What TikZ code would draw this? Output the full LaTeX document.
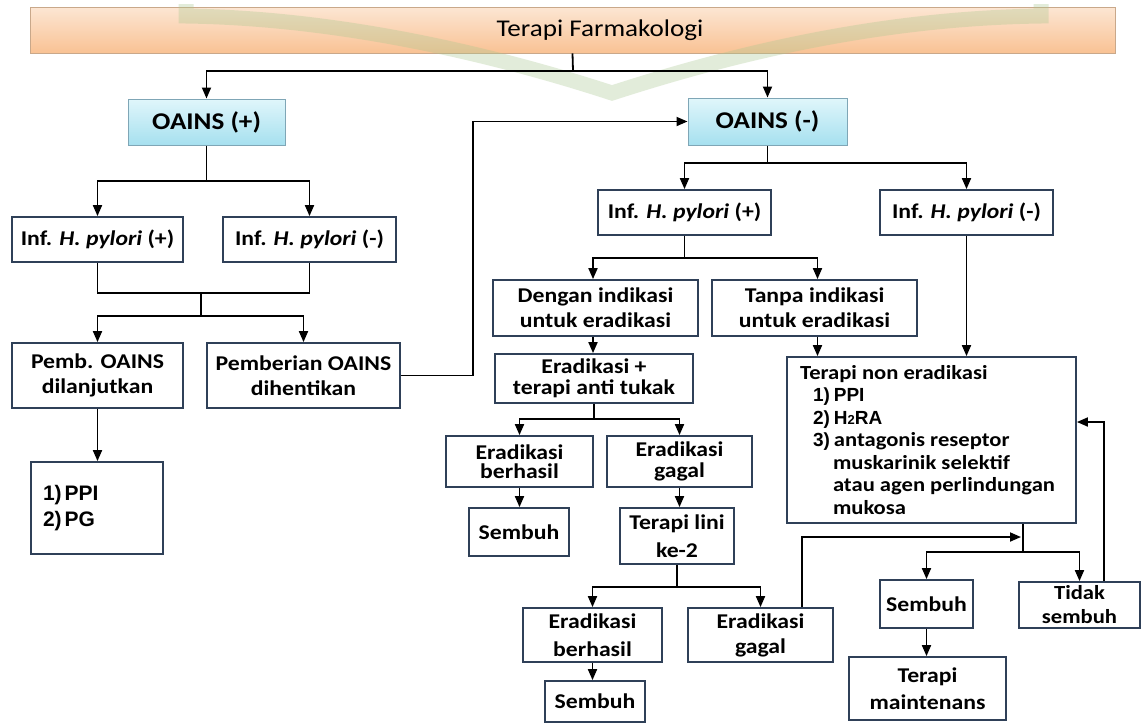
\documentclass[tikz,border=0pt]{standalone}
\usepackage{fontspec}
\setmainfont{Carlito}[FakeStretch=1.13]
\newfontfamily\arialf{Liberation Sans}
\usetikzlibrary{arrows.meta}
\definecolor{boxc}{HTML}{2F4058}
\definecolor{banborder}{HTML}{C9A88A}
\definecolor{bantop}{HTML}{FCE6D3}
\definecolor{banbot}{HTML}{F9C294}
\definecolor{oatop}{HTML}{E0F6FB}
\definecolor{oabot}{HTML}{A6E0EF}
\definecolor{oaborder}{HTML}{7FA6B6}
\definecolor{wmark}{HTML}{A9C78F}
\newcommand{\numf}[1]{{\arialf\fontsize{19}{22}\selectfont #1}}
\begin{document}
\begin{tikzpicture}[x=1pt,y=-1pt,
  box/.style={draw=boxc, line width=1.8pt, fill=white, align=center, inner sep=1pt,
    font=\bfseries\fontsize{21}{25}\selectfont, text=black},
  sz/.style 2 args={minimum width=#1, minimum height=#2},
  oabox/.style={draw=oaborder, line width=1pt, top color=oatop, bottom color=oabot,
    font=\bfseries\fontsize{24}{26}\selectfont, inner sep=1pt},
  ln/.style={line width=1.8pt, black},
  arr/.style={line width=1.8pt, black, -{Triangle[length=11pt,width=9pt]}}
]
\useasboundingbox (0,0) rectangle (1143,724);
\fill[white] (0,0) rectangle (1143,724);

% banner
\node[draw=banborder, line width=0.8pt, top color=bantop, bottom color=banbot,
  sz={1085}{46}, inner sep=0pt, font=\fontsize{24}{26}\selectfont]
  (ban) at (572.5,30) {\hspace*{55pt}Terapi Farmakologi};

% watermark
\draw[wmark, opacity=0.33, line width=15pt]
  (186,4) -- (186,16) .. controls (330,18) and (480,50) .. (612,93)
  .. controls (760,45) and (900,18) .. (1041,16) -- (1041,4);

% OAINS boxes
\node[oabox, sz={157}{46}] (oaP) at (206.5,122) {OAINS (+)};
\node[oabox, sz={159}{47}] (oaM) at (767.5,121.5) {OAINS (-)};

% left column
\node[box, sz={171}{45}] (hpL) at (97.5,239.5) {Inf. \textit{H. pylori} (+)};
\node[box, sz={173}{45}] (hmL) at (309.5,239.5) {Inf. \textit{H. pylori} (-)};
\node[box, sz={171}{65}] (pemb) at (97.5,375.5) {Pemb. OAINS\\dilanjutkan};
\node[box, sz={193}{65}] (stop) at (303.5,375.5) {Pemberian OAINS\\dihentikan};
\node[box, sz={132}{92}, text width=108pt, inner xsep=12pt, align=flush left,
  font=\arialf\bfseries\fontsize{21}{26}\selectfont] (ppi) at (97,508)
  {1)\hspace{3pt}PPI\\2)\hspace{3pt}PG};

% right column
\node[box, sz={173}{45}] (hpR) at (684.5,212.5) {Inf. \textit{H. pylori} (+)};
\node[box, sz={173}{45}] (hmR) at (966.5,212.5) {Inf. \textit{H. pylori} (-)};
\node[box, sz={205}{56}] (deng) at (595.5,308) {Dengan indikasi\\untuk eradikasi};
\node[box, sz={205}{56}] (tanpa) at (814.5,308) {Tanpa indikasi\\untuk eradikasi};
\node[box, sz={198}{49}, font=\bfseries\fontsize{21}{21}\selectfont] (erad) at (594,378.5) {Eradikasi +\\terapi anti tukak};
\node[box, sz={289}{166}, text width=263pt, inner xsep=13pt, align=flush left,
  font=\bfseries\fontsize{20}{22.5}\selectfont] (non) at (931.5,440)
  {\mbox{Terapi non eradikasi}\\
   \mbox{\hspace*{13pt}\numf{1)\hspace{4pt}PPI}}\\
   \mbox{\hspace*{13pt}\numf{2)\hspace{4pt}H{\fontsize{13}{13}\selectfont 2}RA}}\\
   \mbox{\hspace*{13pt}\numf{3)\hspace{4pt}}antagonis reseptor}\\
   \mbox{\hspace*{33pt}muskarinik selektif}\\
   \mbox{\hspace*{33pt}atau agen perlindungan}\\
   \mbox{\hspace*{33pt}mukosa}};
\node[box, sz={147}{51}, font=\bfseries\fontsize{21}{19}\selectfont] (b1) at (519.5,461.5) {Eradikasi\\berhasil};
\node[box, sz={145}{51}, font=\bfseries\fontsize{21}{21}\selectfont] (g1) at (679.5,461.5) {Eradikasi\\gagal};
\node[box, sz={100}{48}] (s1) at (519,532) {Sembuh};
\node[box, sz={114}{56}, font=\bfseries\fontsize{21}{28}\selectfont] (lini) at (677,536) {Terapi lini\\ke-2};
\node[box, sz={139}{54}, font=\bfseries\fontsize{21}{28}\selectfont] (b2) at (592.5,635) {Eradikasi\\berhasil};
\node[box, sz={145}{54}] (g2) at (760.5,635) {Eradikasi\\gagal};
\node[box, sz={100}{41}] (s2) at (595,701.5) {Sembuh};
\node[box, sz={93}{48}] (s3) at (926.5,604) {Sembuh};
\node[box, sz={121}{46}, font=\bfseries\fontsize{20}{24}\selectfont] (tid) at (1079.5,605) {Tidak\\sembuh};
\node[box, sz={157}{63}, font=\bfseries\fontsize{21}{27}\selectfont] (maint) at (927.5,688.5) {Terapi\\maintenans};

% connectors: top
\coordinate (j0) at (573,71);
\draw[ln] (ban.south) -- (j0);
\draw[arr] (j0) -| (oaP.north);
\draw[arr] (j0) -| (oaM.north);

% left branch
\coordinate (j1) at (206.5,181);
\draw[ln] (oaP.south) -- (j1);
\draw[arr] (j1) -| (hpL.north);
\draw[arr] (j1) -| (hmL.north);
\coordinate (j2) at (201,293);
\draw[ln] (hpL.south) |- (j2);
\draw[ln] (hmL.south) |- (j2);
\coordinate (j3) at (201,316);
\draw[ln] (j2) -- (j3);
\draw[arr] (j3) -| (pemb.north);
\draw[arr] (j3) -| (stop.north);
\draw[arr] (pemb.south) -- (pemb.south |- ppi.north);
\draw[arr] (stop.east) -- ++(72,0) |- (oaM.west);

% right branch
\coordinate (j4) at (767.5,163);
\draw[ln] (oaM.south) -- (j4);
\draw[arr] (j4) -| (hpR.north);
\draw[arr] (j4) -| (hmR.north);
\coordinate (j5) at (684.5,258);
\draw[ln] (hpR.south) -- (j5);
\draw[arr] (j5) -| ([xshift=-2.5pt]deng.north);
\draw[arr] (j5) -| ([xshift=3pt]tanpa.north);
\draw[arr] ([xshift=-2.5pt]deng.south) -- ([xshift=-2.5pt]deng.south |- erad.north);
\draw[arr] ([xshift=3pt]tanpa.south) -- ([xshift=3pt]tanpa.south |- non.north);
\draw[arr] (hmR.south) -- (hmR.south |- non.north);
\coordinate (j6) at (594,419);
\draw[ln] (erad.south) -- (j6);
\draw[arr] (j6) -| (b1.north);
\draw[arr] (j6) -| (g1.north);
\draw[arr] (b1.south) -- (b1.south |- s1.north);
\draw[arr] (g1.south) -- (g1.south |- lini.north);
\coordinate (j7) at (677,587);
\draw[ln] (lini.south) -- (j7);
\draw[arr] (j7) -| (b2.north);
\draw[arr] (j7) -| (g2.north);
\draw[arr] (b2.south) -- (b2.south |- s2.north);
\coordinate (ret) at (1021,537);
\draw[arr] ([xshift=41.5pt]g2.north) |- (ret);
\coordinate (j8) at (1023,552);
\draw[ln] (non.south -| j8) -- (j8);
\draw[arr] (j8) -| (s3.north);
\draw[arr] (j8) -| (tid.north);
\draw[arr] (s3.south) -- (s3.south |- maint.north);
\draw[arr] ([xshift=24.5pt]tid.north) |- ([yshift=18pt]non.east);
\end{tikzpicture}
\end{document}
